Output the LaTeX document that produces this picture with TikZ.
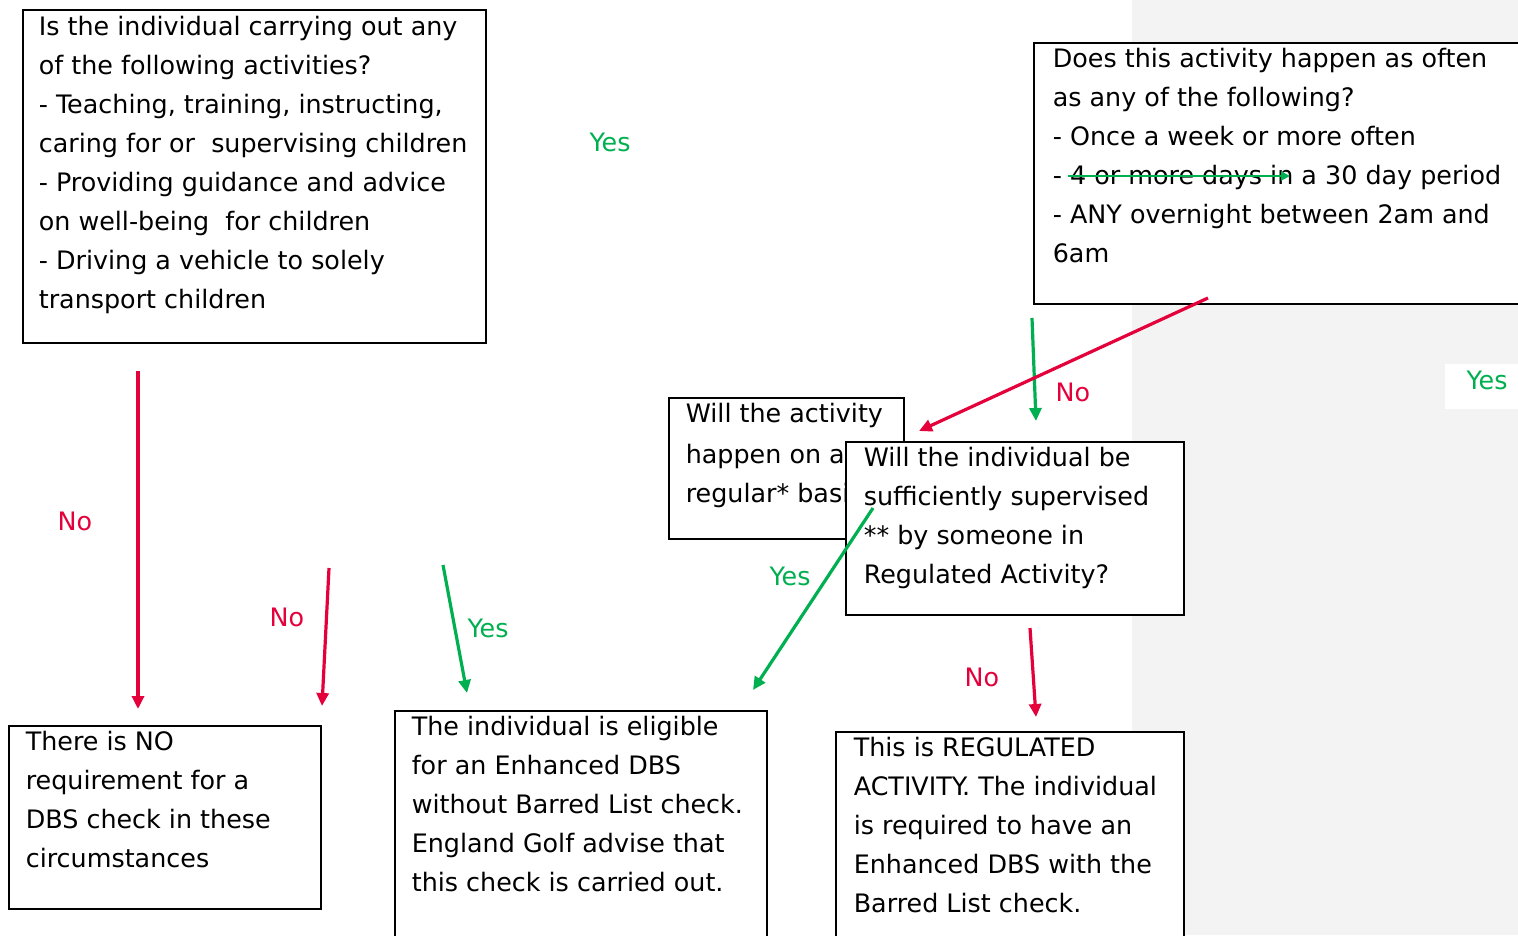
\documentclass[tikz,border=0pt]{standalone}
\usepackage{fontspec}
\setmainfont{DejaVu Sans}
\usetikzlibrary{arrows.meta}
\definecolor{noRed}{HTML}{E4003B}
\definecolor{yesGreen}{HTML}{00B050}
\definecolor{pageGrey}{HTML}{F3F3F3}
\newcommand{\boxtext}[4]{\parbox[t][#2][t]{#1}{\raggedright\leftskip=#3\rule{0pt}{25pt}#4}}
\tikzset{
  qbox/.style={draw=black, line width=1.6pt, fill=white, anchor=north west,
               inner sep=0pt, font=\fontsize{25.4}{39}\selectfont},
  yeslbl/.style={text=yesGreen, inner sep=0pt, font=\fontsize{25.4}{30}\selectfont},
  nolbl/.style={text=noRed, inner sep=0pt, font=\fontsize{25.4}{30}\selectfont},
  noflow/.style={draw=noRed, line width=3.2pt, -{Triangle[length=13pt,width=12pt]}},
  yesflow/.style={draw=yesGreen, line width=3.2pt, -{Triangle[length=13pt,width=12pt]}},
  strike/.style={draw=yesGreen, line width=2.6pt, -{Triangle[length=9pt,width=9pt]}},
}

\begin{document}
\begin{tikzpicture}[x=1pt,y=-1pt]
  \useasboundingbox (0,0) rectangle (1518,935);
  \clip (0,0) rectangle (1518,935);
  \fill[white] (0,0) rectangle (1518,935);
  \fill[pageGrey] (1132,0) rectangle (1518,935);

  % questions
  \node[qbox] (act) at (22,9) {\boxtext{463pt}{333pt}{16pt}{%
    \rule{0pt}{26pt}Is the individual carrying out any\\
    of the following activities?\\
    - Teaching, training, instructing,\\
    caring for or\ \ supervising children\\
    - Providing guidance and advice\\
    on well-being\ \ for children\\
    - Driving a vehicle to solely\\
    transport children}};

  \node[yeslbl] (yes1) at (610,142) {Yes};

  \node[qbox] (often) at (1033,42) {\boxtext{500pt}{261pt}{19pt}{%
    Does this activity happen as often\\
    as any of the following?\\
    - Once a week or more often\\
    - 4 or more days in a 30 day period\\
    - ANY overnight between 2am and\\
    6am}};

  \coordinate (st1) at (1068,176);
  \coordinate (st2) at (1290,176);
  \draw[strike] (st1) -- (st2);

  \node[yeslbl, fill=white, minimum width=84pt, minimum height=45pt,
        text height=18pt, text depth=12pt] (yes2) at (1487,386) {Yes};

  \node[qbox] (regular) at (668,397) {\boxtext{235pt}{141pt}{17pt}{%
    Will the activity\\[2pt]
    happen on a\\
    regular* basis?}};

  \node[qbox] (superv) at (845,441) {\boxtext{338pt}{173pt}{18pt}{%
    Will the individual be\\
    sufficiently supervised\\
    {}** by someone in\\
    Regulated Activity?}};

  % outcomes
  \node[qbox] (none) at (8,725) {\boxtext{312pt}{183pt}{17pt}{%
    There is NO\\
    requirement for a\\
    DBS check in these\\
    circumstances}};

  \node[qbox] (enh) at (394,710) {\boxtext{372pt}{240pt}{17pt}{%
    The individual is eligible\\
    for an Enhanced DBS\\
    without Barred List check.\\
    England Golf advise that\\
    this check is carried out.}};

  \node[qbox] (ra) at (835,731) {\boxtext{348pt}{220pt}{18pt}{%
    This is REGULATED\\
    ACTIVITY. The individual\\
    is required to have an\\
    Enhanced DBS with the\\
    Barred List check.}};

  % connectors
  \coordinate (n1a) at (138,371);   \coordinate (n1b) at (138,709);
  \coordinate (n2a) at (329,568);   \coordinate (n2b) at (322,706);
  \coordinate (y3a) at (443,565);   \coordinate (y3b) at (467,693);
  \coordinate (y4a) at (873,508);   \coordinate (y4b) at (753,690);
  \coordinate (n5a) at (1030,628);  \coordinate (n5b) at (1036,717);
  \coordinate (y6a) at (1032,318);  \coordinate (y6b) at (1036,421);
  \coordinate (n7a) at (1208,298);  \coordinate (n7b) at (919,431);

  \draw[noflow] (n1a) -- (n1b);
  \draw[noflow] (n2a) -- (n2b);
  \draw[yesflow] (y3a) -- (y3b);
  \draw[yesflow] (y4a) -- (y4b);
  \draw[noflow] (n5a) -- (n5b);
  \draw[yesflow] (y6a) -- (y6b);
  \draw[noflow] (n7a) -- (n7b);

  \node[nolbl] (no1) at (75,521) {No};
  \node[nolbl] (no2) at (287,617) {No};
  \node[yeslbl] (yes3) at (488,628) {Yes};
  \node[yeslbl] (yes4) at (790,576) {Yes};
  \node[nolbl] (no5) at (982,677) {No};
  \node[nolbl] (no7) at (1073,392) {No};
\end{tikzpicture}
\end{document}
